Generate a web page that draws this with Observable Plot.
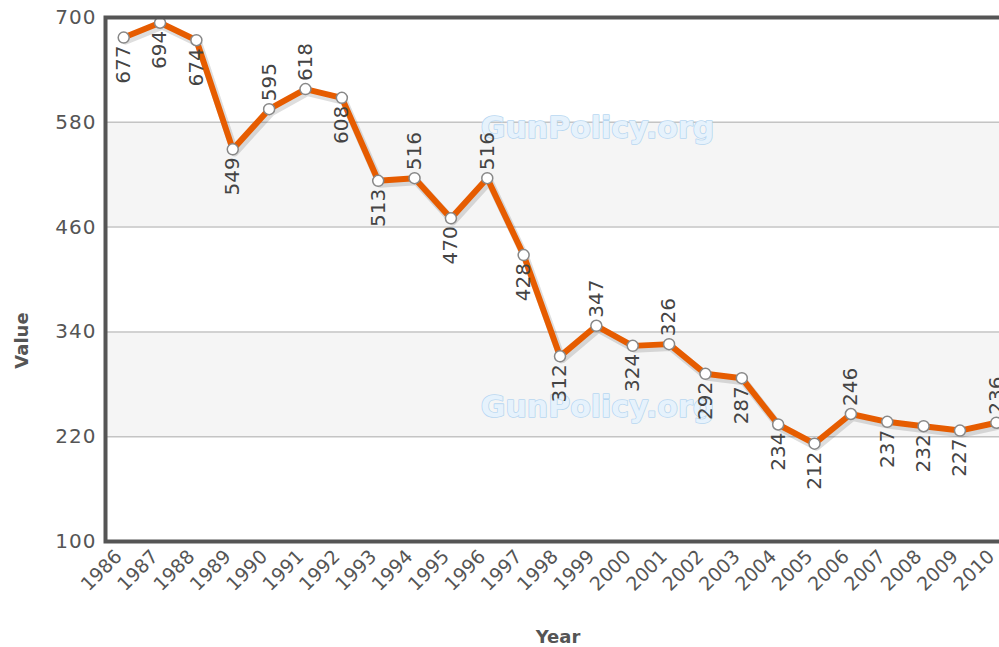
<!DOCTYPE html>
<html><head><meta charset="utf-8">
<script src="https://cdn.jsdelivr.net/npm/d3@7"></script>
<script src="https://cdn.jsdelivr.net/npm/@observablehq/plot@0.6"></script>
<style>html,body{margin:0;padding:0;overflow:hidden;background:#fff}</style>
</head><body><div id="chart"></div>
<script>
const years = [1986,1987,1988,1989,1990,1991,1992,1993,1994,1995,1996,1997,1998,1999,2000,2001,2002,2003,2004,2005,2006,2007,2008,2009,2010];
const values = [677,694,674,549,595,618,608,513,516,470,516,428,312,347,324,326,292,287,234,212,246,237,232,227,236];
const yTicks = [100,220,340,460,580,700];
const shadedLow = [220,460];
const shadedHigh = [340,580];
const gridValues = [220,340,460,580];
const xTitle = "Year";
const yTitle = "Value";
const watermark = "GunPolicy.org";

const data = years.map((yr,i)=>({year:yr, value:values[i],
  above: i>0 && values[i]>values[i-1] && values[i] < 680}));
const bands = shadedLow.map((lo,i)=>({lo, hi: shadedHigh[i]}));

const font = "DejaVu Sans, Verdana, sans-serif";
const wm = {text: d=>d, frameAnchor: "top-left", dx: 492, textAnchor: "middle", lineAnchor: "middle",
      fontSize: 30, fontWeight: "bold", fill: "#e6f2fc", stroke: "#b8d7f1", strokeWidth: 1.6};
const plot = Plot.plot({
  width: 999, height: 647,
  marginLeft: 105, marginRight: -15, marginTop: 17, marginBottom: 106,
  style: {fontFamily: font, background: "#fff", color: "#555"},
  x: {type: "point", domain: years, padding: 0.5, round: false},
  y: {domain: [100, 700]},
  marks: [
    Plot.rect(bands, {y1: "lo", y2: "hi", fill: "#f5f5f5"}),
    Plot.ruleY(gridValues, {stroke: "#c4c4c4", strokeWidth: 1.5}),
    Plot.text([watermark], {...wm, dy: 111}),
    Plot.text([watermark], {...wm, dy: 390}),
    Plot.axisY({ticks: yTicks, tickSize: 0, tickPadding: 9, fontSize: 20, fill: "#555", label: null}),
    Plot.axisX({tickRotate: -45, tickSize: 0, tickPadding: 9, dx: -5, dy: 3, fontSize: 19, fill: "#555", label: null, tickFormat: d=>String(d)}),
    Plot.line(data, {x: "year", y: "value", stroke: "#000", strokeOpacity: 0.13, strokeWidth: 8, dx: 2, dy: 3}),
    Plot.line(data, {x: "year", y: "value", stroke: "#e65c00", strokeWidth: 6}),
    Plot.dot(data, {x: "year", y: "value", r: 5.5, fill: "#fff", stroke: "#888", strokeWidth: 1.5}),
    Plot.text(data.filter(d=>d.above), {x: "year", y: "value", text: d=>String(d.value), rotate: -90,
      textAnchor: "start", dy: -8, fontSize: 20, fill: "#444", ariaLabel: "value-label"}),
    Plot.text(data.filter(d=>!d.above), {x: "year", y: "value", text: d=>String(d.value), rotate: -90,
      textAnchor: "end", dy: 8, fontSize: 20, fill: "#444", ariaLabel: "value-label"}),
    Plot.frame({stroke: "#555", strokeWidth: 4}),
    Plot.text([yTitle], {text: d=>d, frameAnchor: "left", dx: -83, dy: 61, rotate: -90, textAnchor: "middle", lineAnchor: "middle",
      fontSize: 18, fontWeight: "bold", fill: "#555"}),
    Plot.text([xTitle], {text: d=>d, frameAnchor: "bottom", dy: 96, dx: -2, textAnchor: "middle", lineAnchor: "middle",
      fontSize: 18, fontWeight: "bold", fill: "#555"})
  ]
});
const sel = d3.select(plot);
sel.selectAll("g[aria-label='value-label'] text").style("letter-spacing", "1.5px");
sel.selectAll("g[aria-label='y-axis tick label'] text").style("letter-spacing", "1px");
document.getElementById("chart").appendChild(plot);
</script>
</body></html>
